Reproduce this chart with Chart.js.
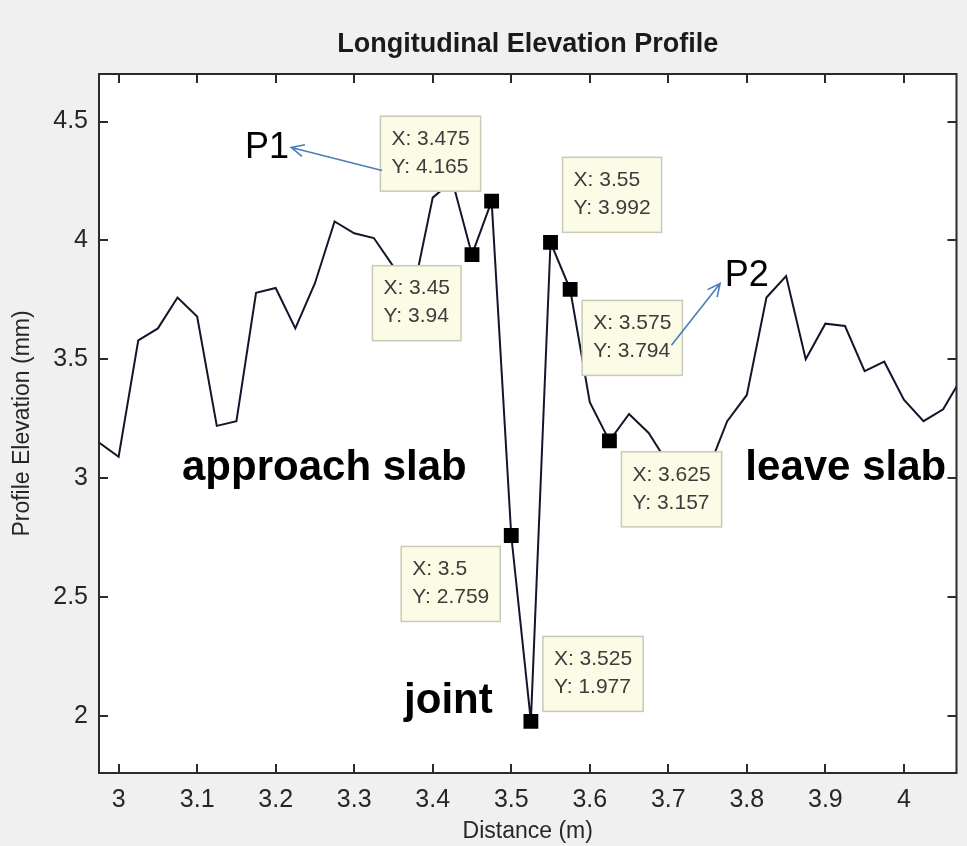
<!DOCTYPE html>
<html>
<head>
<meta charset="utf-8">
<title>Longitudinal Elevation Profile</title>
<script src="https://cdn.jsdelivr.net/npm/chart.js@4.4.0/dist/chart.umd.min.js"></script>
<style>
  html, body { margin: 0; padding: 0; background: #f0f0f0; }
  #wrap { width: 967px; height: 846px; position: relative; }
</style>
</head>
<body>
<div id="wrap"><canvas id="profileChart"></canvas></div>
<script>
// Surface profile along the slab (distance in m, elevation in mm)
const distance = [
  2.975, 3.0, 3.025, 3.05, 3.075, 3.1, 3.125, 3.15, 3.175, 3.2, 3.225,
  3.25, 3.275, 3.3, 3.325, 3.35, 3.375, 3.4, 3.425, 3.45, 3.475, 3.5,
  3.525, 3.55, 3.575, 3.6, 3.625, 3.65, 3.675, 3.7, 3.725, 3.75, 3.775,
  3.8, 3.825, 3.85, 3.875, 3.9, 3.925, 3.95, 3.975, 4.0, 4.025, 4.05, 4.075
];
const elevation = [
  3.15, 3.09, 3.58, 3.63, 3.76, 3.68, 3.22, 3.24, 3.78, 3.80, 3.63,
  3.82, 4.08, 4.03, 4.01, 3.89, 3.78, 4.18, 4.25, 3.94, 4.165, 2.759,
  1.977, 3.992, 3.794, 3.32, 3.157, 3.27, 3.19, 3.06, 3.02, 3.03, 3.24,
  3.35, 3.76, 3.85, 3.50, 3.65, 3.64, 3.45, 3.49, 3.33, 3.24, 3.29, 3.43
];

// Data tips picked on the curve
const tipDistance = [3.45, 3.475, 3.5, 3.525, 3.55, 3.575, 3.625];
const tipElevation = [3.94, 4.165, 2.759, 1.977, 3.992, 3.794, 3.157];

const xTicks = [3, 3.1, 3.2, 3.3, 3.4, 3.5, 3.6, 3.7, 3.8, 3.9, 4];
const yTicks = [2, 2.5, 3, 3.5, 4, 4.5];

const FONT = '"Liberation Sans", Arial, Helvetica, sans-serif';

// which corner each data tip box sits in, relative to its marker
const tipPlacement = { 3.45: 'dl', 3.475: 'ul', 3.5: 'dl', 3.525: 'ur', 3.55: 'ur', 3.575: 'dr', 3.625: 'dr' };

// free text on the plot, placed in data units
const notes = [
  { text: 'approach slab', x: 3.262, y: 3.04, font: 'bold 42px ' + FONT },
  { text: 'leave slab', x: 3.926, y: 3.04, font: 'bold 42px ' + FONT },
  { text: 'joint', x: 3.42, y: 2.06, font: 'bold 42px ' + FONT },
  { text: 'P1', x: 3.189, y: 4.39, font: '36px ' + FONT },
  { text: 'P2', x: 3.80, y: 3.85, font: '36px ' + FONT }
];
const arrows = [
  { from: [3.3355, 4.294], to: [3.2198, 4.391] },
  { from: [3.704, 3.559], to: [3.766, 3.819] }
];

function drawArrow(ctx, x1, y1, x2, y2) {
  const a = Math.atan2(y2 - y1, x2 - x1);
  const len = 14;
  ctx.beginPath();
  ctx.moveTo(x1, y1);
  ctx.lineTo(x2, y2);
  ctx.moveTo(x2 - len * Math.cos(a - 0.45), y2 - len * Math.sin(a - 0.45));
  ctx.lineTo(x2, y2);
  ctx.lineTo(x2 - len * Math.cos(a + 0.45), y2 - len * Math.sin(a + 0.45));
  ctx.stroke();
}

const matlabFrame = {
  id: 'matlabFrame',
  beforeDraw(chart) {
    const { ctx, chartArea: a } = chart;
    ctx.save();
    ctx.fillStyle = '#f0f0f0';
    ctx.fillRect(0, 0, chart.width, chart.height);
    ctx.fillStyle = '#ffffff';
    ctx.fillRect(a.left, a.top, a.right - a.left, a.bottom - a.top);
    ctx.restore();
  },
  afterDraw(chart) {
    const { ctx, chartArea: a } = chart;
    const xs = chart.scales.x, ys = chart.scales.y;
    ctx.save();

    // title
    ctx.fillStyle = '#1a1a1a';
    ctx.font = 'bold 27px ' + FONT;
    ctx.textAlign = 'center';
    ctx.textBaseline = 'middle';
    ctx.fillText('Longitudinal Elevation Profile', (a.left + a.right) / 2, 45);

    // axes box with inward ticks on all sides
    ctx.strokeStyle = '#2b2b2b';
    ctx.lineWidth = 2;
    ctx.strokeRect(a.left, a.top, a.right - a.left, a.bottom - a.top);
    const tl = 9;
    ctx.beginPath();
    xTicks.forEach(v => {
      const px = Math.round(xs.getPixelForValue(v));
      ctx.moveTo(px, a.bottom); ctx.lineTo(px, a.bottom - tl);
      ctx.moveTo(px, a.top); ctx.lineTo(px, a.top + tl);
    });
    yTicks.forEach(v => {
      const py = Math.round(ys.getPixelForValue(v));
      ctx.moveTo(a.left, py); ctx.lineTo(a.left + tl, py);
      ctx.moveTo(a.right, py); ctx.lineTo(a.right - tl, py);
    });
    ctx.stroke();

    // data tip boxes
    ctx.font = '21px ' + FONT;
    ctx.textAlign = 'left';
    tipDistance.forEach((d, i) => {
      const px = xs.getPixelForValue(d);
      const py = ys.getPixelForValue(tipElevation[i]);
      const l1 = 'X: ' + d, l2 = 'Y: ' + tipElevation[i];
      const w = Math.max(ctx.measureText(l1).width, ctx.measureText(l2).width) + 22;
      const h = 75;
      const side = tipPlacement[d];
      const bx = side[1] === 'l' ? px - 11 - w : px + 12;
      const by = side[0] === 'u' ? py - 10 - h : py + 11;
      ctx.fillStyle = '#fbfbe6';
      ctx.fillRect(bx, by, w, h);
      ctx.strokeStyle = '#c9c9b8';
      ctx.lineWidth = 1.5;
      ctx.strokeRect(bx, by, w, h);
      ctx.fillStyle = '#3c3c3c';
      ctx.fillText(l1, bx + 11, by + 23);
      ctx.fillText(l2, bx + 11, by + 51);
    });

    // annotations
    ctx.fillStyle = '#000000';
    ctx.textAlign = 'center';
    notes.forEach(n => {
      ctx.font = n.font;
      ctx.fillText(n.text, xs.getPixelForValue(n.x), ys.getPixelForValue(n.y));
    });
    ctx.strokeStyle = '#4a7ebb';
    ctx.lineWidth = 1.6;
    arrows.forEach(ar => {
      drawArrow(ctx,
        xs.getPixelForValue(ar.from[0]), ys.getPixelForValue(ar.from[1]),
        xs.getPixelForValue(ar.to[0]), ys.getPixelForValue(ar.to[1]));
    });
    ctx.restore();
  }
};

const ctx = document.getElementById('profileChart').getContext('2d');
new Chart(ctx, {
  type: 'line',
  data: {
    datasets: [
      {
        label: 'Profile',
        data: distance.map((d, i) => ({ x: d, y: elevation[i] })),
        borderColor: '#14142b',
        borderWidth: 2,
        pointRadius: 0,
        tension: 0,
        order: 2
      },
      {
        label: 'Data tips',
        data: tipDistance.map((d, i) => ({ x: d, y: tipElevation[i] })),
        showLine: false,
        pointStyle: 'rect',
        pointRadius: 10.5,
        pointBackgroundColor: '#000000',
        pointBorderWidth: 0,
        order: 1
      }
    ]
  },
  options: {
    responsive: true,
    maintainAspectRatio: false,
    animation: false,
    layout: { padding: { top: 74, right: 8, bottom: 0, left: 0 } },
    plugins: {
      legend: { display: false },
      tooltip: { enabled: false }
    },
    scales: {
      x: {
        type: 'linear',
        min: 2.975,
        max: 4.067,
        afterFit: s => { s.height = 73; },
        afterBuildTicks: s => { s.ticks = xTicks.map(v => ({ value: v })); },
        grid: { display: false, drawTicks: false },
        border: { display: false },
        ticks: {
          padding: 12,
          color: '#262626',
          font: { family: FONT, size: 25 },
          callback: v => String(v)
        },
        title: {
          display: true,
          text: 'Distance (m)',
          color: '#262626',
          font: { family: FONT, size: 23 },
          padding: { top: 0, bottom: 1 }
        }
      },
      y: {
        min: 1.76,
        max: 4.70,
        afterFit: s => { s.width = 99; },
        afterBuildTicks: s => { s.ticks = yTicks.map(v => ({ value: v })); },
        grid: { display: false, drawTicks: false },
        border: { display: false },
        ticks: {
          padding: 11,
          color: '#262626',
          font: { family: FONT, size: 25 },
          callback: v => String(v)
        },
        title: {
          display: true,
          text: 'Profile Elevation (mm)',
          color: '#262626',
          font: { family: FONT, size: 23 },
          padding: { top: 9, bottom: 0 }
        }
      }
    }
  },
  plugins: [matlabFrame]
});
</script>
</body>
</html>
